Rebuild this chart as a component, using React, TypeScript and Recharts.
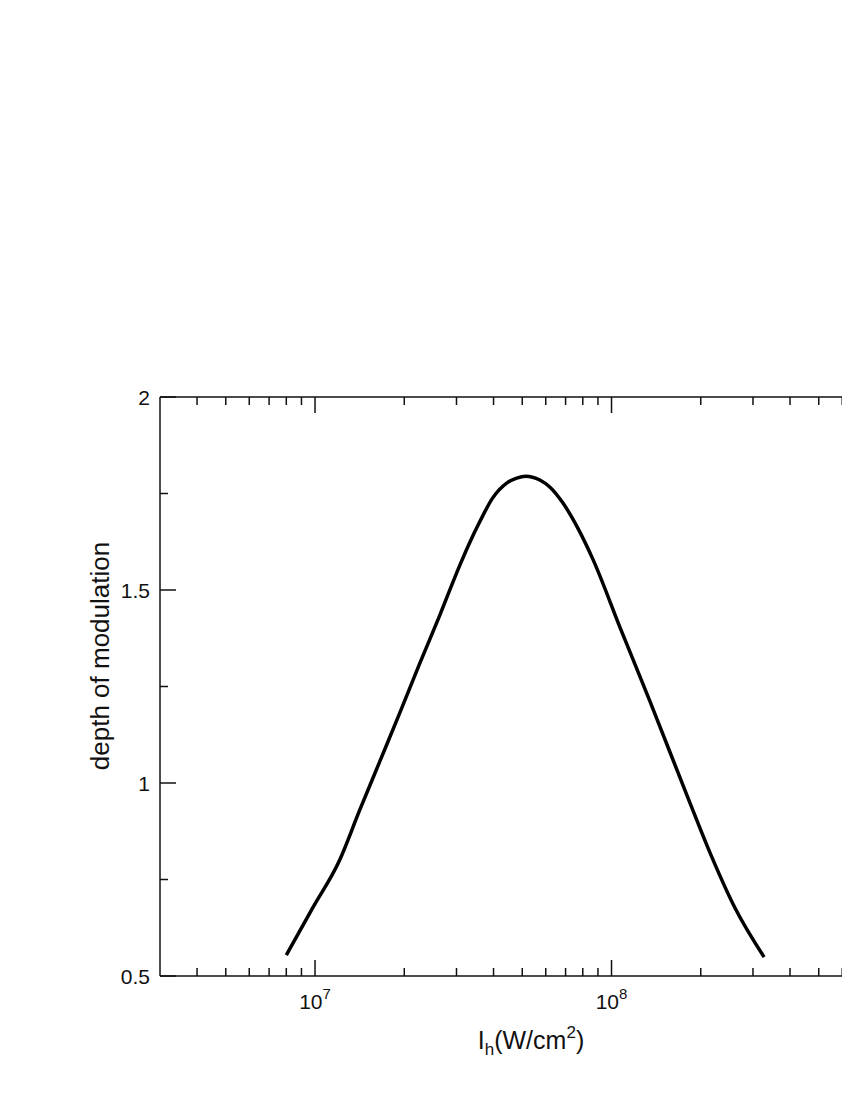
import { LineChart, Line, XAxis, YAxis } from "recharts";

// intensity I_h (W/cm^2) and depth of modulation
const intensity = [
  8.0e6, 9.83e6, 1.21e7, 1.41e7, 1.65e7, 1.93e7, 2.25e7, 2.63e7, 3.07e7, 3.32e7, 3.59e7,
  3.97e7, 4.43e7, 4.79e7, 5.13e7, 5.73e7, 6.19e7, 6.85e7, 7.69e7, 8.65e7, 1.067e8,
  1.347e8, 1.84e8, 2.18e8, 2.61e8, 3.27e8,
];
const depth = [
  0.554, 0.677, 0.8, 0.927, 1.054, 1.181, 1.308, 1.433, 1.562, 1.622, 1.676,
  1.738, 1.777, 1.79, 1.795, 1.785, 1.767, 1.726, 1.661, 1.58, 1.404,
  1.212, 0.948, 0.808, 0.676, 0.549,
];

const xMajorTicks = [1e7, 1e8];
const xMinorTicks = [
  4e6, 5e6, 6e6, 7e6, 8e6, 9e6,
  2e7, 3e7, 4e7, 5e7, 6e7, 7e7, 8e7, 9e7,
  2e8, 3e8, 4e8, 5e8, 6e8, 7e8, 8e8, 9e8,
];
const xTicks = [...xMajorTicks, ...xMinorTicks].sort((a, b) => a - b);
const yMajorTicks = [0.5, 1, 1.5, 2];
const yTicks = [0.5, 0.75, 1, 1.25, 1.5, 1.75, 2];

const data = intensity.map((x, i) => ({ x, y: depth[i] }));

const FONT = "'Liberation Sans', Arial, Helvetica, sans-serif";
const INK = "#111";

const XTick = (props: any) => {
  const { x, y, payload, top } = props;
  const v = payload.value;
  const major = xMajorTicks.includes(v);
  const len = major ? 16 : 8;
  const dir = top ? 1 : -1;
  return (
    <g>
      <line x1={x} x2={x} y1={y} y2={y + dir * len} stroke={INK} strokeWidth={1.5} />
      {major && !top && (
        <text x={x} y={y + 33} textAnchor="middle" fontSize={21} fontFamily={FONT} fill={INK}>
          10
          <tspan dy={-10} fontSize={15}>
            {Math.round(Math.log10(v))}
          </tspan>
        </text>
      )}
    </g>
  );
};

const YTick = (props: any) => {
  const { x, y, payload, right } = props;
  const v = payload.value;
  const major = yMajorTicks.includes(v);
  const len = major ? 16 : 8;
  const dir = right ? -1 : 1;
  return (
    <g>
      <line x1={x} x2={x + dir * len} y1={y} y2={y} stroke={INK} strokeWidth={1.5} />
      {major && !right && (
        <text x={x - 10} y={y} dy="0.36em" textAnchor="end" fontSize={21} fontFamily={FONT} fill={INK}>
          {v}
        </text>
      )}
    </g>
  );
};

const XLabel = (props: any) => {
  const { x, y, width } = props.viewBox;
  return (
    <text x={x + width / 2 - 3} y={y + 73} textAnchor="middle" fontSize={25} fontFamily={FONT} fill={INK}>
      I
      <tspan dy={6} fontSize={17}>h</tspan>
      <tspan dy={-6}>(W/cm</tspan>
      <tspan dy={-11} fontSize={17}>2</tspan>
      <tspan dy={11}>)</tspan>
    </text>
  );
};

const YLabel = (props: any) => {
  const { x } = props.viewBox;
  const lx = x - 50;
  const ly = 648;
  return (
    <text
      x={lx}
      y={ly}
      transform={`rotate(-90, ${lx}, ${ly})`}
      textAnchor="middle"
      fontSize={26}
      fontFamily={FONT}
      fill={INK}
    >
      depth of modulation
    </text>
  );
};

const axisStyle = { stroke: INK, strokeWidth: 1.5 };

export default function App() {
  return (
    <div style={{ width: 842, height: 1080, overflow: "hidden" }}>
      <LineChart width={950} height={1080} data={data} margin={{ top: 388, right: 49, bottom: 111, left: 151 }}>
        <XAxis
          dataKey="x"
          type="number"
          scale="log"
          domain={[3e6, 1e9]}
          allowDataOverflow
          ticks={xTicks}
          interval={0}
          height={1}
          tickSize={0}
          tickMargin={0}
          tickLine={false}
          axisLine={axisStyle}
          tick={<XTick />}
          label={XLabel}
        />
        <XAxis
          xAxisId="top"
          orientation="top"
          dataKey="x"
          type="number"
          scale="log"
          domain={[3e6, 1e9]}
          allowDataOverflow
          ticks={xTicks}
          interval={0}
          height={1}
          tickSize={0}
          tickMargin={0}
          tickLine={false}
          axisLine={axisStyle}
          tick={<XTick top />}
        />
        <YAxis
          type="number"
          domain={[0.5, 2]}
          allowDataOverflow
          ticks={yTicks}
          interval={0}
          width={1}
          tickSize={0}
          tickMargin={0}
          tickLine={false}
          axisLine={axisStyle}
          tick={<YTick />}
          label={YLabel}
        />
        <YAxis
          yAxisId="right"
          orientation="right"
          type="number"
          domain={[0.5, 2]}
          allowDataOverflow
          ticks={yTicks}
          interval={0}
          width={1}
          tickSize={0}
          tickMargin={0}
          tickLine={false}
          axisLine={axisStyle}
          tick={<YTick right />}
        />
        <Line
          dataKey="y"
          type="monotone"
          stroke="#000"
          strokeWidth={3.5}
          dot={false}
          isAnimationActive={false}
        />
      </LineChart>
    </div>
  );
}
